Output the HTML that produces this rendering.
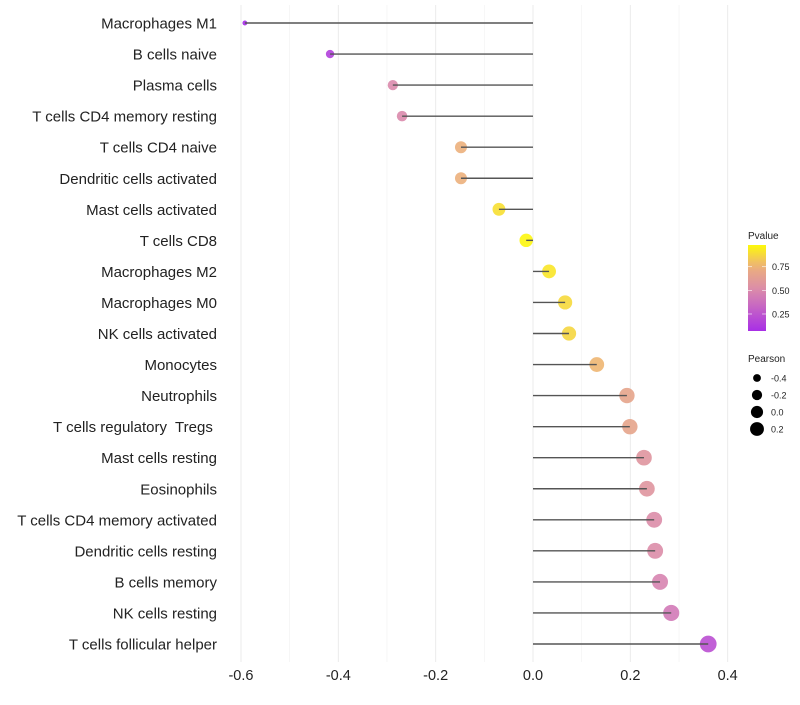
<!DOCTYPE html>
<html><head><meta charset="utf-8"><style>
body{margin:0;background:#fff;font-family:"Liberation Sans",sans-serif}
</style></head><body>
<svg id="chart" width="800" height="700" xmlns="http://www.w3.org/2000/svg"></svg>
<script>
const categories=["Macrophages M1","B cells naive","Plasma cells","T cells CD4 memory resting","T cells CD4 naive","Dendritic cells activated","Mast cells activated","T cells CD8","Macrophages M2","Macrophages M0","NK cells activated","Monocytes","Neutrophils","T cells regulatory  Tregs ","Mast cells resting","Eosinophils","T cells CD4 memory activated","Dendritic cells resting","B cells memory","NK cells resting","T cells follicular helper"];
const pearson=[-0.592,-0.417,-0.288,-0.269,-0.148,-0.148,-0.070,-0.014,0.033,0.066,0.074,0.131,0.193,0.199,0.228,0.234,0.249,0.251,0.261,0.284,0.360];
const pvalue=[0.05,0.15,0.5,0.5,0.75,0.75,0.9,0.97,0.92,0.88,0.87,0.77,0.67,0.67,0.57,0.57,0.52,0.52,0.47,0.42,0.22];
const xTicks=[-0.6,-0.4,-0.2,0.0,0.4,0.2];
const legendP=[0.75,0.50,0.25];
const legendPearson=[-0.4,-0.2,0.0,0.2];

const svg=document.getElementById('chart');
const NS='http://www.w3.org/2000/svg';
function mk(tag,attrs,parent){const e=document.createElementNS(NS,tag);for(const k in attrs)e.setAttribute(k,attrs[k]);(parent||svg).appendChild(e);return e;}
const xs=v=>533+v*486.7;
const ys=i=>23+i*31.05;
function rs(v){return 1.12*Math.sqrt(Math.max(3,36.6+53.8*v));}
const stops=[[0,[160,32,240]],[0.5,[218,138,172]],[0.75,[236,176,124]],[1,[255,255,0]]];
function col(p){for(let i=0;i<stops.length-1;i++){const[a,ca]=stops[i],[b,cb]=stops[i+1];if(p<=b){const t=(p-a)/(b-a);return 'rgb('+ca.map((c,j)=>Math.round(c+(cb[j]-c)*t)).join(',')+')';}}return 'rgb(255,255,0)';}

for(let k=-6;k<=4;k++){const v=k/10;const g=mk('line',{x1:xs(v),x2:xs(v),y1:5,y2:662,stroke:k%2===0?'#ebebeb':'#f3f3f3','stroke-width':k%2===0?1:0.7});
}
xTicks.forEach(t=>{const e=mk('text',{x:xs(t),y:680,'text-anchor':'middle','font-size':14.5,fill:'#222'});e.textContent=t.toFixed(1);
});
categories.forEach((c,i)=>{const e=mk('text',{x:217,y:ys(i)+5.5,'text-anchor':'end','font-size':15,fill:'#222'});e.setAttribute('xml:space','preserve');e.style.whiteSpace='pre';e.textContent=c;

const d=mk('circle',{cx:xs(pearson[i]),cy:ys(i),r:rs(pearson[i]),fill:col(pvalue[i]),'fill-opacity':0.9});

const l=mk('line',{x1:xs(0),x2:xs(pearson[i]),y1:ys(i),y2:ys(i),stroke:'#555','stroke-width':1.4});
});

const lt=mk('text',{x:748,y:239,'font-size':10,fill:'#222'});lt.textContent='Pvalue';

const defs=mk('defs',{});const gr=mk('linearGradient',{id:'pg',x1:0,y1:1,x2:0,y2:0},defs);
for(let k=0;k<=10;k++){const p=0.07+(0.98-0.07)*k/10;mk('stop',{offset:k/10,'stop-color':col(p)},gr);}
const bar=mk('rect',{x:748,y:245,width:18,height:86,fill:'url(#pg)'});

const pY=p=>245+(0.98-p)/(0.91)*86;
legendP.forEach(p=>{mk('line',{x1:748,x2:752,y1:pY(p),y2:pY(p),stroke:'#fff','stroke-width':0.6});mk('line',{x1:762,x2:766,y1:pY(p),y2:pY(p),stroke:'#fff','stroke-width':0.6});
const e=mk('text',{x:772,y:pY(p)+3.5,'font-size':9,fill:'#222'});e.textContent=p.toFixed(2);
});
const pt=mk('text',{x:748,y:362,'font-size':10,fill:'#222'});pt.textContent='Pearson';

legendPearson.forEach((v,k)=>{const y=378+k*17;const c=mk('circle',{cx:757,cy:y,r:rs(v)*0.9,fill:'#000'});

const e=mk('text',{x:771,y:y+3.5,'font-size':9,fill:'#222'});e.textContent=v.toFixed(1);
});
</script>
</body></html>
